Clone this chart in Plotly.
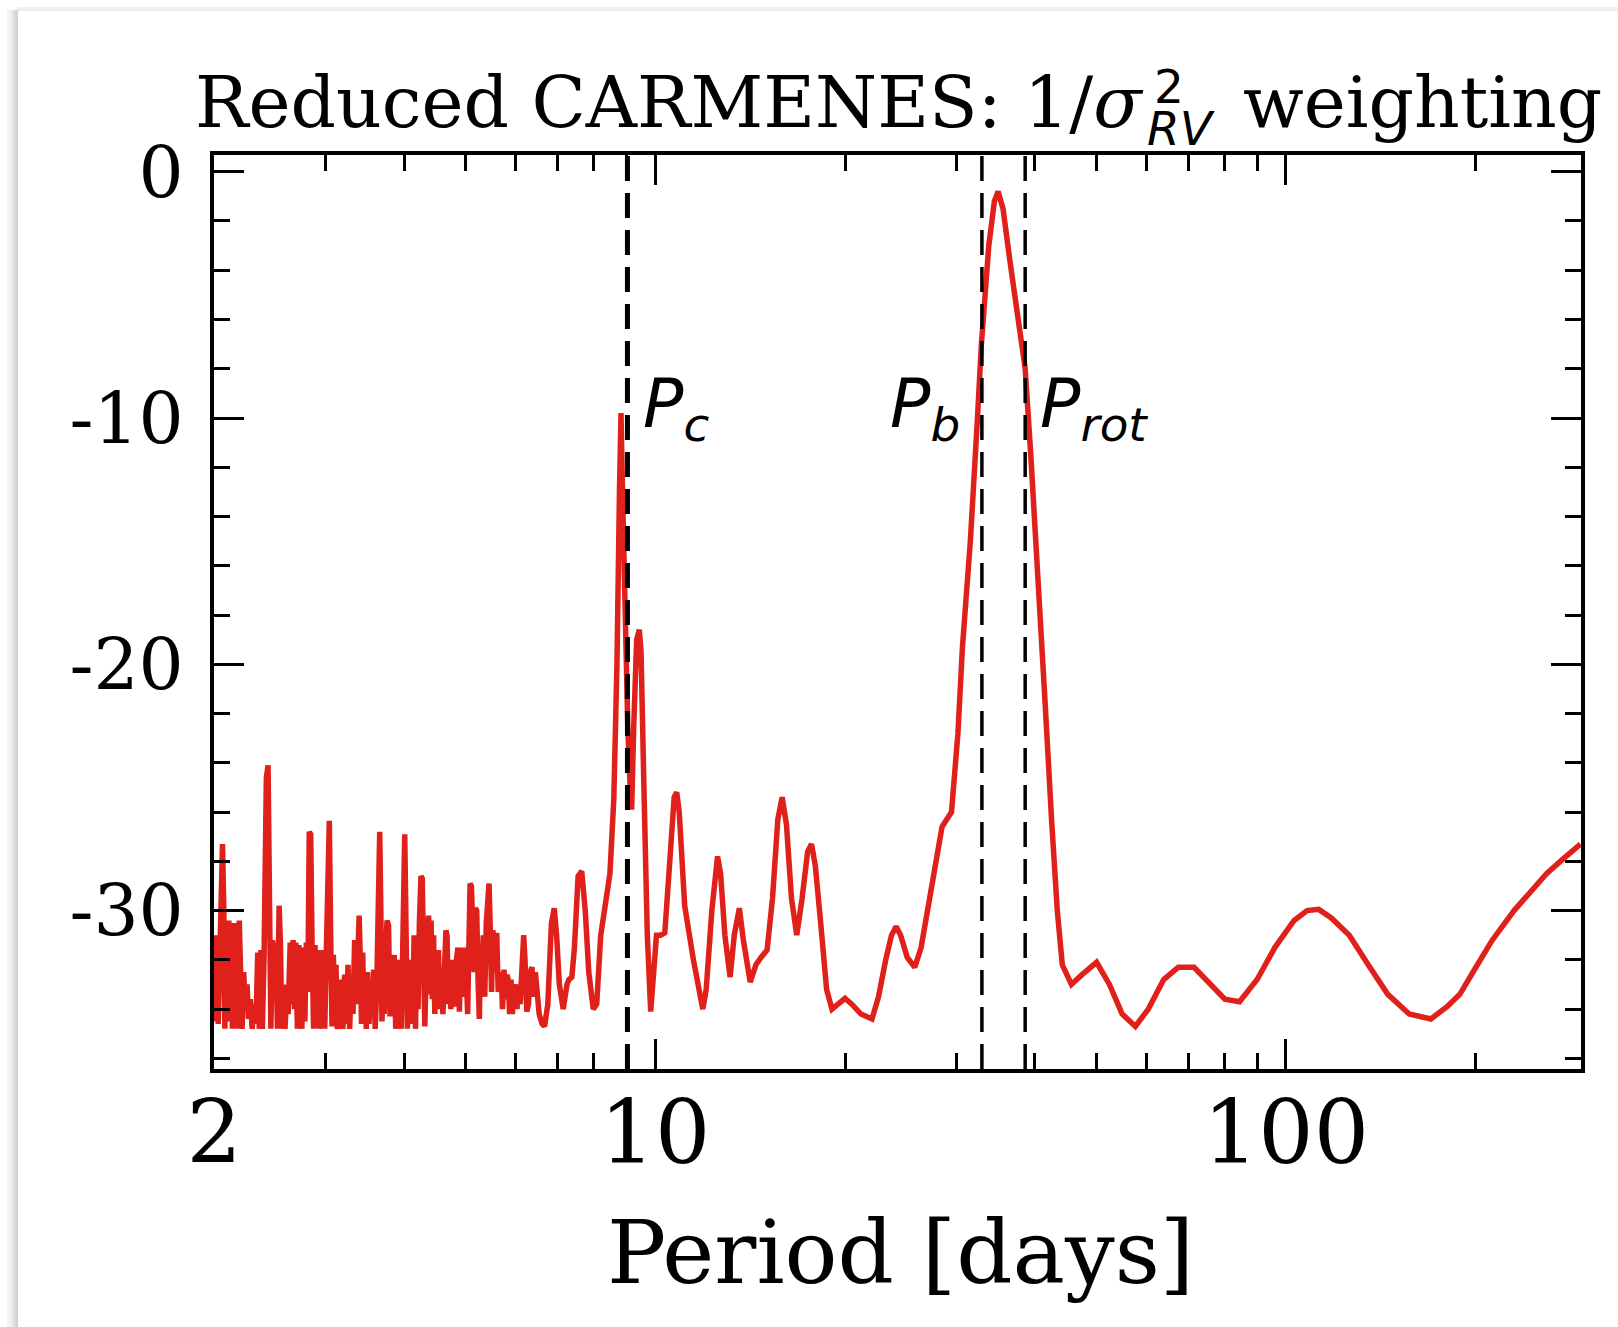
import math
import plotly.graph_objects as go

# ---------------- data ----------------
period = [
    2.000, 2.012, 2.030, 2.048, 2.062, 2.072, 2.080, 2.090, 2.100, 2.110, 2.118, 2.128, 2.138, 2.150,
    2.160, 2.172, 2.182, 2.192, 2.205, 2.215, 2.228, 2.240, 2.255, 2.268, 2.282, 2.298, 2.315, 2.330,
    2.345, 2.358, 2.372, 2.385, 2.400, 2.420, 2.435, 2.448, 2.460, 2.475, 2.490, 2.505, 2.520, 2.535,
    2.548, 2.560, 2.575, 2.590, 2.605, 2.620, 2.640, 2.655, 2.668, 2.682, 2.695, 2.710, 2.725, 2.740,
    2.755, 2.770, 2.785, 2.800, 2.815, 2.830, 2.845, 2.860, 2.875, 2.890, 2.905, 2.920, 2.935, 2.950,
    2.965, 2.980, 2.995, 3.010, 3.030, 3.045, 3.060, 3.075, 3.090, 3.105, 3.120, 3.135, 3.150, 3.165,
    3.180, 3.200, 3.220, 3.240, 3.260, 3.280, 3.300, 3.320, 3.340, 3.360, 3.375, 3.395, 3.410, 3.425,
    3.440, 3.455, 3.470, 3.485, 3.500, 3.520, 3.540, 3.560, 3.580, 3.600, 3.620, 3.645, 3.660, 3.675,
    3.690, 3.705, 3.720, 3.740, 3.760, 3.780, 3.800, 3.820, 3.840, 3.860, 3.880, 3.900, 3.920, 3.940,
    3.960, 3.975, 3.995, 4.010, 4.030, 4.050, 4.070, 4.090, 4.110, 4.130, 4.150, 4.170, 4.190, 4.210,
    4.230, 4.255, 4.275, 4.295, 4.315, 4.335, 4.355, 4.375, 4.395, 4.415, 4.435, 4.455, 4.475, 4.495,
    4.515, 4.535, 4.560, 4.585, 4.610, 4.635, 4.660, 4.680, 4.700, 4.720, 4.745, 4.770, 4.795, 4.820,
    4.845, 4.870, 4.895, 4.920, 4.945, 4.970, 4.995, 5.020, 5.045, 5.065, 5.090, 5.115, 5.140, 5.165,
    5.190, 5.215, 5.240, 5.265, 5.290, 5.315, 5.340, 5.370, 5.400, 5.430, 5.455, 5.480, 5.505, 5.530,
    5.555, 5.580, 5.610, 5.640, 5.670, 5.700, 5.730, 5.760, 5.790, 5.820, 5.850, 5.880, 5.910, 5.940,
    5.970, 6.000, 6.040, 6.080, 6.110, 6.150, 6.190, 6.220, 6.260, 6.300, 6.340, 6.380, 6.420, 6.460,
    6.500, 6.550, 6.620, 6.680,
    6.76, 6.85, 6.92, 6.98, 7.05, 7.15, 7.25, 7.30, 7.38, 7.45, 7.55, 7.65, 7.75, 7.85, 7.98, 8.08,
    8.20, 8.35, 8.48, 8.60, 8.70, 8.78, 8.83, 8.87, 8.95, 9.05, 9.13, 9.18, 9.25, 9.35, 9.44, 9.50,
    9.60, 9.72, 9.84, 9.95, 10.05, 10.2, 10.36, 10.55, 10.72, 10.82, 10.92, 11.14, 11.5, 11.9, 12.05,
    12.3, 12.56, 12.7, 12.9, 13.15, 13.35, 13.6, 13.8, 14.15, 14.45, 14.72, 15.05, 15.35, 15.65, 15.9,
    16.15, 16.45, 16.77, 17.1, 17.45, 17.7, 17.95, 18.3, 18.7, 19.07, 19.5, 20.0, 20.5, 21.2, 22.07,
    22.6, 23.2, 23.7, 24.1, 24.5, 25.1, 25.8, 26.4, 27.1, 27.8, 28.5, 29.5, 30.2, 30.7, 31.6, 32.4,
    32.9, 33.8, 34.5, 34.97, 35.6, 36.5, 37.2, 38.6, 39.4, 40.5, 41.5, 42.5, 43.4, 44.2, 45.7, 47.5,
    50.1, 52.5, 55.0, 57.7, 60.5, 64.0, 67.5, 71.5, 75.5, 80.0, 84.4, 90.0, 96.0, 103.0, 108.0, 112.7,
    118.0, 126.0, 135.0, 145.0, 156.8, 169.7, 180.0, 188.6, 200.0, 212.3, 229.9, 245.0, 258.8, 275.0,
    293.0,
]
power = [
    -34.5, -31.0, -34.6, -30.5, -27.3, -30.0, -34.8, -30.5, -34.5, -30.4, -33.8, -30.6, -34.8, -30.5,
    -34.2, -30.6, -34.8, -30.4, -32.4, -34.8, -32.5, -34.0, -33.0, -34.4, -33.6, -34.8, -33.8, -34.6,
    -31.7, -34.8, -31.6, -34.8, -31.8, -24.6, -24.1, -31.0, -34.8, -31.2, -33.6, -31.3, -34.8, -29.8,
    -31.4, -34.8, -33.0, -34.8, -33.5, -34.2, -31.3, -33.8, -31.2, -34.0, -31.3, -34.8, -31.4, -33.0,
    -34.8, -31.5, -34.5, -31.3, -33.3, -26.8, -26.9, -31.6, -34.8, -31.4, -33.9, -31.6, -34.8, -32.0,
    -34.4, -31.6, -34.8, -32.0, -26.4, -26.35, -31.0, -34.7, -31.8, -33.5, -32.2, -34.8, -34.5, -33.2,
    -32.8, -34.8, -32.6, -34.6, -32.2, -34.8, -32.6, -34.2, -31.2, -33.8, -31.0, -30.2, -32.0, -34.6,
    -31.7, -34.5, -33.3, -34.8, -32.5, -34.6, -33.0, -34.2, -32.4, -34.8, -33.2, -27.0, -26.8, -30.0,
    -34.5, -33.0, -34.2, -31.5, -30.4, -30.6, -34.3, -31.8, -33.6, -31.8, -34.8, -32.3, -33.8, -32.0,
    -34.8, -32.5, -27.2, -26.9, -31.0, -34.8, -32.0, -34.6, -32.5, -33.8, -31.0, -34.8, -32.2, -34.0,
    -30.5, -28.6, -28.7, -32.0, -34.7, -32.5, -30.3, -30.2, -33.4, -30.4, -33.6, -31.0, -34.2, -31.6,
    -33.2, -31.6, -34.0, -33.0, -34.2, -32.2, -30.8, -31.0, -33.8, -32.2, -34.0, -32.0, -33.9, -32.4,
    -31.6, -31.5, -34.1, -31.6, -32.8, -31.5, -33.5, -32.6, -34.2, -31.0, -28.9, -29.0, -31.2, -32.5,
    -29.9, -30.0, -32.8, -34.4, -31.5, -32.6, -31.0, -33.5, -30.5, -29.0, -28.9, -30.8, -33.3, -30.8,
    -31.2, -32.5, -30.9, -33.3, -32.6, -32.5, -34.0, -32.4, -33.6, -32.6, -32.8, -34.2, -32.8, -34.2,
    -33.2, -33.0, -34.0, -33.0, -33.8, -32.0, -31.0, -32.0, -34.1, -33.8, -32.5, -32.3, -33.5, -32.5,
    -33.6, -34.2, -34.6, -34.7,
    -33.8, -30.5, -29.9, -31.0, -33.0, -34.0, -33.0, -32.8, -32.7, -31.5, -28.6, -28.4, -30.0, -32.5,
    -34.0, -33.8, -31.0, -29.8, -28.5, -25.5, -20.0, -13.0, -9.8, -12.5, -18.0, -22.5, -25.0, -25.9,
    -22.5, -19.0, -18.6, -19.5, -25.0, -31.0, -34.1, -32.5, -31.0, -31.0, -30.9, -28.0, -25.4, -25.2,
    -26.0, -29.8, -32.0, -34.0, -33.2, -30.0, -27.8, -28.5, -31.0, -32.7, -31.0, -29.9, -31.2, -32.9,
    -32.2, -31.9, -31.6, -29.5, -26.3, -25.4, -26.5, -29.5, -31.0, -29.5, -27.6, -27.3, -28.2, -30.5,
    -33.2, -34.0, -33.8, -33.56, -33.8, -34.2, -34.4, -33.5, -32.0, -31.0, -30.65, -31.0, -31.9, -32.3,
    -31.5, -29.8, -28.2, -26.6, -26.0, -22.8, -19.3, -15.0, -10.2, -7.0, -3.0, -1.2, -0.8, -1.5, -3.6,
    -5.2, -8.0, -11.5, -16.5, -21.5, -26.3, -30.0, -32.2, -33.0, -32.6, -32.1, -33.0, -34.2, -34.7,
    -34.0, -32.8, -32.3, -32.3, -32.9, -33.6, -33.7, -32.8, -31.5, -30.4, -30.0, -29.95, -30.3, -31.0,
    -32.2, -33.4, -34.2, -34.4, -33.9, -33.4, -32.3, -31.2, -30.0, -29.2, -28.5, -27.9, -27.3,
]

marker_periods = [9.04, 32.96, 38.6]
marker_labels = ["P<sub>c</sub>", "P<sub>b</sub>", "P<sub>rot</sub>"]

x_tickvals = [2, 10, 100]
x_ticktext = ["2", "10", "100"]
x_minor = [3, 4, 5, 6, 7, 8, 9, 20, 30, 40, 50, 60, 70, 80, 90, 200]
y_tickvals = [0, -10, -20, -30]
y_ticktext = ["0", "-10", "-20", "-30"]
y_minor = [-36, -34, -32, -28, -26, -24, -22, -18, -16, -14, -12, -8, -6, -4, -2]

title_main = "Reduced CARMENES: 1/<i>σ</i>"
title_sup = "2"
title_sub = "<i>RV</i>"
title_end = "weighting"
x_label = "Period [days]"

# ---------------- layout geometry ----------------
W, H = 1618, 1327
L, R, T, B = 214, 1581, 155, 1069     # plot area (axis lines are drawn just outside)


def logp_at(px):            # pixel -> log10(period) in the reference
    return 1 + (px - 652) / 633.0


def pow_at(py):             # pixel -> power in the reference
    return -(py - 171.7) / 24.63


X_RANGE = [math.log10(1.999), logp_at(R)]
Y_RANGE = [pow_at(B), pow_at(T)]


def xp(px):
    return (px - L) / (R - L)


def yp(py):
    return (B - py) / (B - T)


RED = "#e0201a"
SERIF = "DejaVu Serif"
SANS = "DejaVu Sans"

fig = go.Figure()
fig.add_trace(go.Scatter(x=period, y=power, mode="lines",
                         line=dict(color=RED, width=5.5), showlegend=False,
                         hoverinfo="skip"))

widths = [5, 3.5, 3.5]
for p, w in zip(marker_periods, widths):
    fig.add_trace(go.Scatter(x=[p, p], y=Y_RANGE, mode="lines",
                             line=dict(color="black", width=w, dash="25px,12px"),
                             showlegend=False, hoverinfo="skip"))

annotations = []
label_cfg = [("left", 14), ("right", -20), ("left", 13)]
for p, lab, (anc, sh) in zip(marker_periods, marker_labels, label_cfg):
    annotations.append(dict(x=math.log10(p), y=-9.6, xref="x", yref="y", text="<i>" + lab + "</i>",
                            xanchor=anc, yanchor="middle", xshift=sh, showarrow=False,
                            font=dict(family=SANS, size=67, color="black")))

# title pieces
annotations += [
    dict(x=xp(1146), y=yp(103), xref="paper", yref="paper", text=title_main, xanchor="right",
         yanchor="middle", showarrow=False, font=dict(family=SERIF, size=71, color="black")),
    dict(x=xp(1152), y=yp(86), xref="paper", yref="paper", text=title_sup, xanchor="left",
         yanchor="middle", showarrow=False, font=dict(family=SANS, size=47, color="black")),
    dict(x=xp(1145), y=yp(128), xref="paper", yref="paper", text=title_sub, xanchor="left",
         yanchor="middle", showarrow=False, font=dict(family=SANS, size=47, color="black")),
    dict(x=xp(1241), y=yp(103), xref="paper", yref="paper", text=title_end, xanchor="left",
         yanchor="middle", showarrow=False, font=dict(family=SERIF, size=71, color="black")),
    dict(x=xp(900), y=yp(1252), xref="paper", yref="paper", text=x_label, xanchor="center",
         yanchor="middle", showarrow=False, font=dict(family=SERIF, size=88, color="black")),
]

# card shadow on the left/top
shapes = []
for off, col, wd in [(0, "#c4c4c4", 1.5), (-2, "#d8d8d8", 2), (-4.5, "#e8e8e8", 3), (-8, "#f4f4f4", 4)]:
    shapes.append(dict(type="line", xref="paper", yref="paper", x0=xp(17 + off), x1=xp(17 + off),
                       y0=yp(10), y1=yp(H + 5), line=dict(color=col, width=wd), layer="below"))
for off, col, wd in [(0, "#dcdcdc", 1.2), (-2, "#eeeeee", 2)]:
    shapes.append(dict(type="line", xref="paper", yref="paper", x0=xp(17), x1=xp(W + 5),
                       y0=yp(10 + off), y1=yp(10 + off), line=dict(color=col, width=wd), layer="below"))

axis_common = dict(showgrid=False, zeroline=False, showline=True, linecolor="black", linewidth=4,
                   mirror="allticks", ticks="inside", tickcolor="black", tickwidth=3, ticklen=30)

fig.update_layout(
    width=W, height=H,
    margin=dict(l=L, r=W - R, t=T, b=H - B, pad=0),
    paper_bgcolor="white", plot_bgcolor="white",
    showlegend=False,
    annotations=annotations,
    shapes=shapes,
    xaxis=dict(type="log", range=X_RANGE, tickvals=x_tickvals, ticktext=x_ticktext,
               tickfont=dict(family=SERIF, size=87, color="black"), ticklabelstandoff=-14,
               minor=dict(tickvals=x_minor, ticks="inside", ticklen=16, tickwidth=3, tickcolor="black"),
               **axis_common),
    yaxis=dict(range=Y_RANGE, tickvals=y_tickvals, ticktext=y_ticktext,
               tickfont=dict(family=SERIF, size=71, color="black"), ticklabelstandoff=12,
               minor=dict(tickvals=y_minor, ticks="inside", ticklen=16, tickwidth=3, tickcolor="black"),
               **axis_common),
)

fig.write_html("out.html")
